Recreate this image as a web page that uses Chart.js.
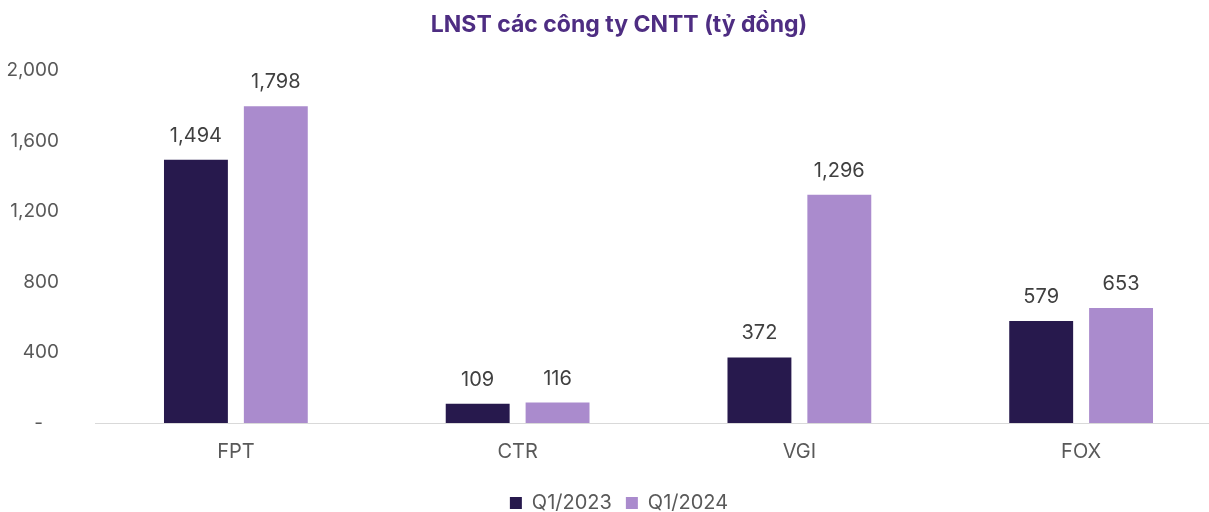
<!DOCTYPE html>
<html>
<head>
<meta charset="utf-8">
<script src="https://cdn.jsdelivr.net/npm/chart.js@4/dist/chart.umd.min.js"></script>
<style>
  html, body { margin: 0; padding: 0; background: #fff; overflow: hidden; }
  #wrap { width: 1238px; height: 512px; }
</style>
</head>
<body>
<div id="wrap"><canvas id="chart"></canvas></div>
<script>
// data
const companies = ['FPT', 'CTR', 'VGI', 'FOX'];
const q1_2023 = [1494, 109, 372, 579];
const q1_2024 = [1798, 116, 1296, 653];
const yTicks = [0, 400, 800, 1200, 1600, 2000];

const DARK  = '#27194d';
const LIGHT = '#aa8bcd';
const TEXT  = '#595959';
const FONT  = 'Inter';

const fmt = (v) => v.toLocaleString('en-US');

// value labels above each bar
const barLabels = {
  id: 'barLabels',
  afterDatasetsDraw(chart) {
    const { ctx } = chart;
    ctx.save();
    ctx.font = '20px ' + FONT;
    ctx.fillStyle = '#404040';
    ctx.textAlign = 'center';
    ctx.textBaseline = 'middle';
    chart.data.datasets.forEach((ds, i) => {
      chart.getDatasetMeta(i).data.forEach((bar, j) => {
        ctx.fillText(fmt(ds.data[j]), bar.x, bar.y - 24);
      });
    });
    ctx.restore();
  }
};

new Chart(document.getElementById('chart'), {
  type: 'bar',
  data: {
    labels: companies,
    datasets: [
      { label: 'Q1/2023', data: q1_2023, backgroundColor: DARK },
      { label: 'Q1/2024', data: q1_2024, backgroundColor: LIGHT },
    ],
  },
  options: {
    responsive: true,
    maintainAspectRatio: false,
    animation: false,
    categoryPercentage: 0.567,
    barPercentage: 0.8,
    layout: { padding: { left: 0, right: 0, top: 0, bottom: -11 } },
    plugins: {
      title: {
        display: true,
        text: 'LNST các công ty CNTT (tỷ đồng)',
        color: '#4e2d82',
        font: { family: FONT, size: 23, weight: 'bold' },
        padding: { top: 11, bottom: 32 },
      },
      legend: {
        position: 'bottom',
        labels: {
          color: TEXT,
          font: { family: FONT, size: 20 },
          boxWidth: 12,
          boxHeight: 12,
          padding: 14,
        },
      },
      tooltip: { enabled: false },
    },
    scales: {
      x: {
        afterFit: (axis) => { axis.height = 56; },
        grid: { display: false },
        border: { color: '#d9d9d9', width: 1 },
        ticks: { color: TEXT, font: { family: FONT, size: 20 }, padding: 9 },
      },
      y: {
        min: 0,
        max: 2000,
        afterBuildTicks: (axis) => { axis.ticks = yTicks.map((v) => ({ value: v })); },
        afterFit: (axis) => { axis.width = 95; },
        grid: { display: false },
        border: { display: false },
        ticks: {
          color: TEXT,
          font: { family: FONT, size: 19 },
          padding: 28,
          callback: (v) => (v === 0 ? '-   ' : fmt(v)),
        },
      },
      // empty right margin so title and legend centre like the original
      yPad: {
        position: 'right',
        min: 0,
        max: 1,
        afterFit: (axis) => { axis.width = 16; },
        grid: { display: false },
        border: { display: false },
        ticks: { display: false },
      },
    },
  },
  plugins: [barLabels],
});
</script>
</body>
</html>
